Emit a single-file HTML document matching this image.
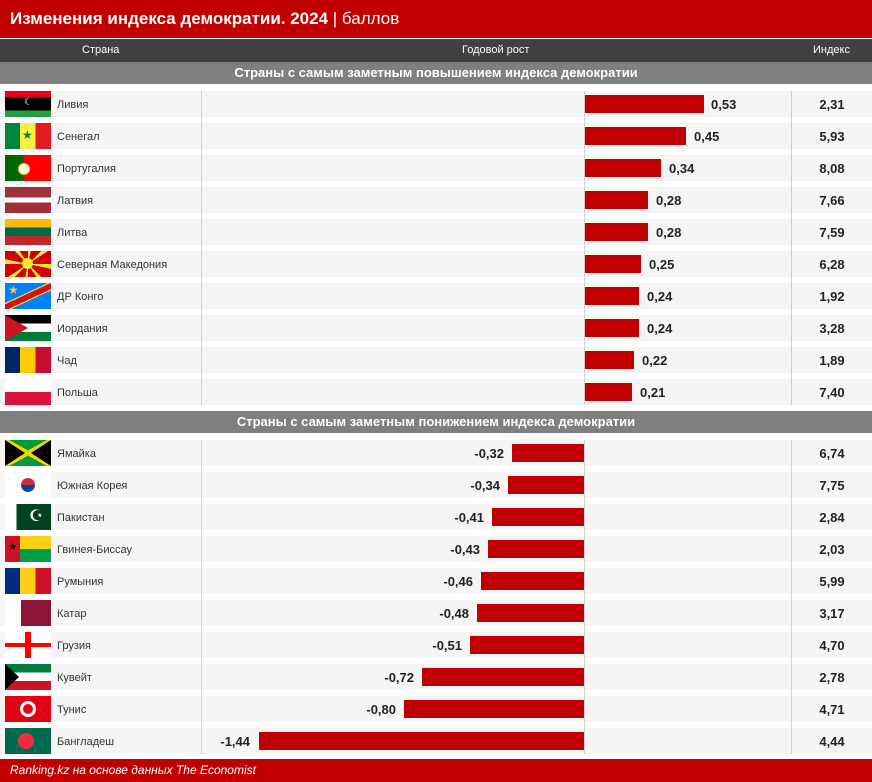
<!DOCTYPE html><html><head><meta charset="utf-8"><style>
body{margin:0;width:872px;height:782px;position:relative;background:#fff;font-family:"Liberation Sans",Arial,sans-serif;overflow:hidden}
.a{position:absolute}
.band{position:absolute;left:0;width:872px;height:26px;background:#f5f5f5}
.f{position:absolute;left:5px;width:46px;height:26px;overflow:hidden}
.n{position:absolute;left:57px;font-size:11px;color:#333;line-height:26px;margin-top:1px}
.bar{position:absolute;height:18px;background:#c00000}
.v{position:absolute;font-size:13px;font-weight:bold;color:#222;line-height:26px;margin-top:1px}
.ix{position:absolute;left:792px;width:80px;text-align:center;font-size:13px;font-weight:bold;color:#222;line-height:26px;margin-top:1px}
.vl{position:absolute;width:1px;background:#d0d0d0}
.sec{position:absolute;left:0;width:872px;height:22px;background:#7f7f7f;color:#fff;font-weight:bold;font-size:13px;text-align:center;line-height:22px}
</style></head><body>
<div class="a" style="left:0;top:0;width:872px;height:38px;background:#c00000;color:#fff;font-size:17px;line-height:38px"><span style="margin-left:10px;font-weight:bold">Изменения индекса демократии. 2024</span> | баллов</div>
<div class="a" style="left:0;top:39px;width:872px;height:23px;background:#404040;color:#fff;font-size:11px;line-height:23px">
<span class="a" style="left:82px">Страна</span><span class="a" style="left:462px">Годовой рост</span><span class="a" style="left:813px">Индекс</span></div>
<div class="sec" style="top:62px">Страны с самым заметным повышением индекса демократии</div>
<div class="sec" style="top:411px">Страны с самым заметным понижением индекса демократии</div>

<div class="band" style="top:91px"></div><div class="band" style="top:123px"></div><div class="band" style="top:155px"></div><div class="band" style="top:187px"></div><div class="band" style="top:219px"></div><div class="band" style="top:251px"></div><div class="band" style="top:283px"></div><div class="band" style="top:315px"></div><div class="band" style="top:347px"></div><div class="band" style="top:379px"></div>
<div class="band" style="top:440px"></div><div class="band" style="top:472px"></div><div class="band" style="top:504px"></div><div class="band" style="top:536px"></div><div class="band" style="top:568px"></div><div class="band" style="top:600px"></div><div class="band" style="top:632px"></div><div class="band" style="top:664px"></div><div class="band" style="top:696px"></div><div class="band" style="top:728px"></div>
<div class="vl" style="left:201px;top:91px;height:314px"></div><div class="vl" style="left:584px;top:91px;height:314px"></div><div class="vl" style="left:791px;top:91px;height:314px"></div>
<div class="vl" style="left:201px;top:440px;height:314px"></div><div class="vl" style="left:584px;top:440px;height:314px"></div><div class="vl" style="left:791px;top:440px;height:314px"></div>

<div class="f" style="top:91px;background:linear-gradient(#e70013 25%,#000 25% 75%,#239e46 75%)"><span class="a" style="left:19px;top:6px;color:#fff;font-size:10px">☾</span></div><div class="n" style="top:91px">Ливия</div><div class="bar" style="left:585px;top:95px;width:119px"></div><div class="v" style="left:711px;top:91px">0,53</div><div class="ix" style="top:91px">2,31</div>
<div class="f" style="top:123px;background:linear-gradient(90deg,#00853f 33%,#fdef42 33% 66%,#e31b23 66%)"><span class="a" style="left:17px;top:5px;color:#00853f;font-size:12px">★</span></div><div class="n" style="top:123px">Сенегал</div><div class="bar" style="left:585px;top:127px;width:101px"></div><div class="v" style="left:694px;top:123px">0,45</div><div class="ix" style="top:123px">5,93</div>
<div class="f" style="top:155px;background:linear-gradient(90deg,#006600 40%,#f00 40%)"><span class="a" style="left:13px;top:8px;width:10px;height:10px;border-radius:50%;background:#fff;border:1px solid #fc0"></span></div><div class="n" style="top:155px">Португалия</div><div class="bar" style="left:585px;top:159px;width:76px"></div><div class="v" style="left:669px;top:155px">0,34</div><div class="ix" style="top:155px">8,08</div>
<div class="f" style="top:187px;background:linear-gradient(#9e3039 40%,#fff 40% 60%,#9e3039 60%)"></div><div class="n" style="top:187px">Латвия</div><div class="bar" style="left:585px;top:191px;width:63px"></div><div class="v" style="left:656px;top:187px">0,28</div><div class="ix" style="top:187px">7,66</div>
<div class="f" style="top:219px;background:linear-gradient(#fdb913 33%,#006a44 33% 66%,#c1272d 66%)"></div><div class="n" style="top:219px">Литва</div><div class="bar" style="left:585px;top:223px;width:63px"></div><div class="v" style="left:656px;top:219px">0,28</div><div class="ix" style="top:219px">7,59</div>
<div class="f" style="top:251px;background:repeating-conic-gradient(from 0deg at 50% 50%,#f8e92e 0 12deg,#d20000 12deg 45deg)"><span class="a" style="left:17px;top:7px;width:11px;height:11px;border-radius:50%;background:#f8e92e"></span></div><div class="n" style="top:251px">Северная Македония</div><div class="bar" style="left:585px;top:255px;width:56px"></div><div class="v" style="left:649px;top:251px">0,25</div><div class="ix" style="top:251px">6,28</div>
<div class="f" style="top:283px;background:linear-gradient(155deg,#007fff 42%,#f7d618 42% 45%,#ce1021 45% 58%,#f7d618 58% 61%,#007fff 61%)"><span class="a" style="left:3px;top:0px;color:#f7d618;font-size:12px">★</span></div><div class="n" style="top:283px">ДР Конго</div><div class="bar" style="left:585px;top:287px;width:54px"></div><div class="v" style="left:647px;top:283px">0,24</div><div class="ix" style="top:283px">1,92</div>
<div class="f" style="top:315px;background:linear-gradient(#000 33%,#fff 33% 66%,#007a3d 66%)"><span class="a" style="left:0;top:0;width:0;height:0;border-top:13px solid transparent;border-bottom:13px solid transparent;border-left:23px solid #ce1126"></span></div><div class="n" style="top:315px">Иордания</div><div class="bar" style="left:585px;top:319px;width:54px"></div><div class="v" style="left:647px;top:315px">0,24</div><div class="ix" style="top:315px">3,28</div>
<div class="f" style="top:347px;background:linear-gradient(90deg,#002664 33%,#fecb00 33% 66%,#c60c30 66%)"></div><div class="n" style="top:347px">Чад</div><div class="bar" style="left:585px;top:351px;width:49px"></div><div class="v" style="left:642px;top:347px">0,22</div><div class="ix" style="top:347px">1,89</div>
<div class="f" style="top:379px;background:linear-gradient(#fff 50%,#dc143c 50%)"></div><div class="n" style="top:379px">Польша</div><div class="bar" style="left:585px;top:383px;width:47px"></div><div class="v" style="left:640px;top:379px">0,21</div><div class="ix" style="top:379px">7,40</div>

<div class="f" style="top:440px;background:#009b3a"><div style="position:absolute;inset:0;background:linear-gradient(29deg,transparent 45%,#fed100 45% 55%,transparent 55%),linear-gradient(-29deg,transparent 45%,#fed100 45% 55%,transparent 55%)"></div><div style="position:absolute;left:0;top:0;border-top:13px solid transparent;border-bottom:13px solid transparent;border-left:20px solid #000"></div><div style="position:absolute;right:0;top:0;border-top:13px solid transparent;border-bottom:13px solid transparent;border-right:20px solid #000"></div></div><div class="n" style="top:440px">Ямайка</div><div class="bar" style="left:512px;top:444px;width:72px"></div><div class="v" style="left:440px;width:64px;text-align:right;top:440px">-0,32</div><div class="ix" style="top:440px">6,74</div>
<div class="f" style="top:472px;background:#fff"><span class="a" style="left:16px;top:6px;width:14px;height:14px;border-radius:50%;background:linear-gradient(#cd2e3a 50%,#0047a0 50%)"></span></div><div class="n" style="top:472px">Южная Корея</div><div class="bar" style="left:508px;top:476px;width:76px"></div><div class="v" style="left:436px;width:64px;text-align:right;top:472px">-0,34</div><div class="ix" style="top:472px">7,75</div>
<div class="f" style="top:504px;background:linear-gradient(90deg,#fff 25%,#01411c 25%)"><span class="a" style="left:24px;top:2px;color:#fff;font-size:16px">☪</span></div><div class="n" style="top:504px">Пакистан</div><div class="bar" style="left:492px;top:508px;width:92px"></div><div class="v" style="left:420px;width:64px;text-align:right;top:504px">-0,41</div><div class="ix" style="top:504px">2,84</div>
<div class="f" style="top:536px;background:linear-gradient(90deg,#ce1126 33%,transparent 33%),linear-gradient(#fcd116 50%,#009e49 50%)"><span class="a" style="left:3px;top:6px;color:#000;font-size:10px">★</span></div><div class="n" style="top:536px">Гвинея-Биссау</div><div class="bar" style="left:488px;top:540px;width:96px"></div><div class="v" style="left:416px;width:64px;text-align:right;top:536px">-0,43</div><div class="ix" style="top:536px">2,03</div>
<div class="f" style="top:568px;background:linear-gradient(90deg,#002b7f 33%,#fcd116 33% 66%,#ce1126 66%)"></div><div class="n" style="top:568px">Румыния</div><div class="bar" style="left:481px;top:572px;width:103px"></div><div class="v" style="left:409px;width:64px;text-align:right;top:568px">-0,46</div><div class="ix" style="top:568px">5,99</div>
<div class="f" style="top:600px;background:linear-gradient(90deg,#fff 35%,#8a1538 35%)"></div><div class="n" style="top:600px">Катар</div><div class="bar" style="left:477px;top:604px;width:107px"></div><div class="v" style="left:405px;width:64px;text-align:right;top:600px">-0,48</div><div class="ix" style="top:600px">3,17</div>
<div class="f" style="top:632px;background:linear-gradient(90deg,transparent 44%,#f00 44% 56%,transparent 56%),linear-gradient(#fff 42%,#f00 42% 58%,#fff 58%)"></div><div class="n" style="top:632px">Грузия</div><div class="bar" style="left:470px;top:636px;width:114px"></div><div class="v" style="left:398px;width:64px;text-align:right;top:632px">-0,51</div><div class="ix" style="top:632px">4,70</div>
<div class="f" style="top:664px;background:linear-gradient(#007a3d 33%,#fff 33% 66%,#ce1126 66%)"><span class="a" style="left:0;top:0;width:0;height:0;border-top:13px solid transparent;border-bottom:13px solid transparent;border-left:14px solid #000"></span></div><div class="n" style="top:664px">Кувейт</div><div class="bar" style="left:422px;top:668px;width:162px"></div><div class="v" style="left:350px;width:64px;text-align:right;top:664px">-0,72</div><div class="ix" style="top:664px">2,78</div>
<div class="f" style="top:696px;background:#e70013"><span class="a" style="left:15px;top:5px;width:16px;height:16px;border-radius:50%;background:#fff"></span><span class="a" style="left:18px;top:8px;width:10px;height:10px;border-radius:50%;background:#e70013"></span></div><div class="n" style="top:696px">Тунис</div><div class="bar" style="left:404px;top:700px;width:180px"></div><div class="v" style="left:332px;width:64px;text-align:right;top:696px">-0,80</div><div class="ix" style="top:696px">4,71</div>
<div class="f" style="top:728px;background:#006a4e"><span class="a" style="left:13px;top:5px;width:16px;height:16px;border-radius:50%;background:#f42a41"></span></div><div class="n" style="top:728px">Бангладеш</div><div class="bar" style="left:259px;top:732px;width:325px"></div><div class="v" style="left:186px;width:64px;text-align:right;top:728px">-1,44</div><div class="ix" style="top:728px">4,44</div>

<div class="a" style="left:0;top:759px;width:872px;height:23px;background:#c00000;color:#fff;font-size:12px;font-style:italic;line-height:23px"><span style="margin-left:10px">Ranking.kz на основе данных The Economist</span></div>
</body></html>
